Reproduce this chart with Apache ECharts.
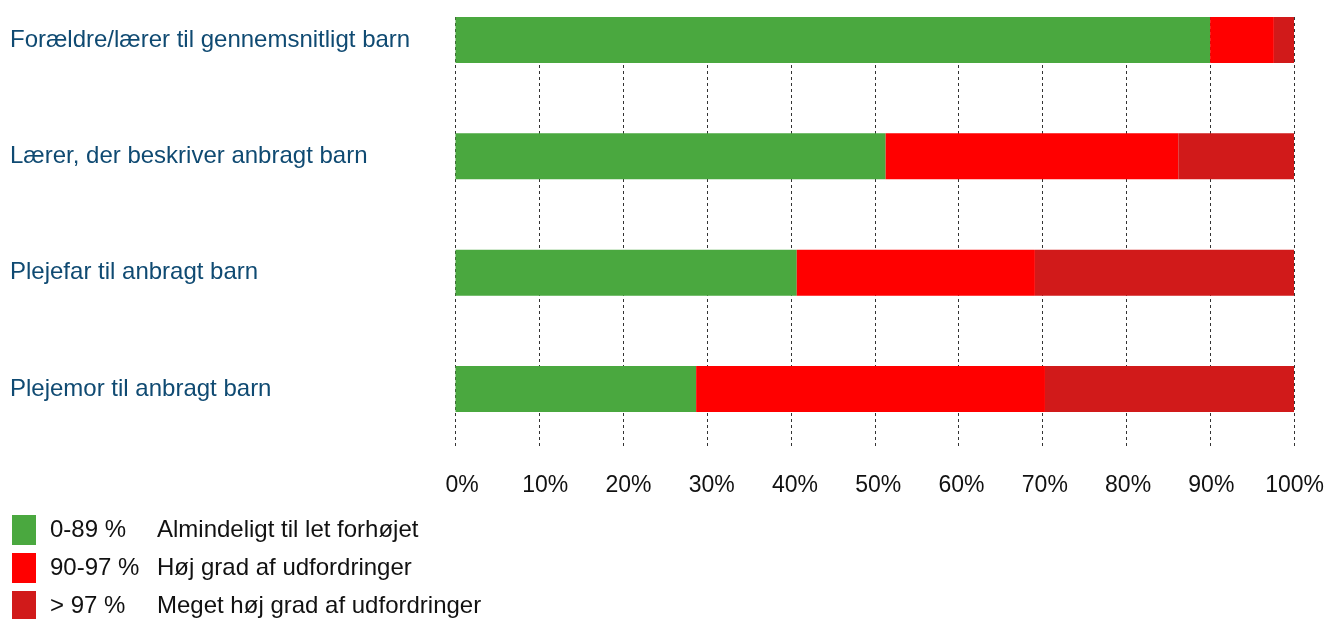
<!DOCTYPE html>
<html>
<head>
<meta charset="utf-8">
<script src="https://cdn.jsdelivr.net/npm/echarts@6/dist/echarts.min.js"></script>
<style>
html,body{margin:0;padding:0;background:#fff;}
#chart{width:1327px;height:619px;}
</style>
</head>
<body>
<div id="chart"></div>
<script>
var categories = [
  "Forældre/lærer til gennemsnitligt barn",
  "Lærer, der beskriver anbragt barn",
  "Plejefar til anbragt barn",
  "Plejemor til anbragt barn"
];
var seriesNames = ["0-89 %", "90-97 %", "> 97 %"];
var seriesLabels = ["Almindeligt til let forhøjet", "Høj grad af udfordringer", "Meget høj grad af udfordringer"];
var seriesColors = ["#4aa83f", "#ff0000", "#d11a1a"];
var normalValues = [90, 51.3, 40.7, 28.7];
var highValues = [7.6, 34.9, 28.4, 41.6];
var veryHighValues = [2.4, 13.8, 30.9, 29.7];
var xTicks = [0, 10, 20, 30, 40, 50, 60, 70, 80, 90, 100];

var values = [normalValues, highValues, veryHighValues];
var font = "'Liberation Sans', Arial, Helvetica, sans-serif";

var chart = echarts.init(document.getElementById('chart'), null, {renderer: 'canvas'});
var series = seriesNames.map(function (n, i) {
  return {
    name: n,
    type: 'bar',
    stack: 'total',
    barWidth: 46,
    xAxisIndex: 1,
    yAxisIndex: 1,
    clip: false,
    data: values[i],
    itemStyle: {color: seriesColors[i]},
    emphasis: {disabled: true}
  };
});

var legends = seriesNames.map(function (n, i) {
  return {
    orient: 'vertical',
    left: 12,
    top: 515 + i * 38,
    padding: 0,
    itemWidth: 24,
    itemHeight: 30,
    icon: 'rect',
    selectedMode: false,
    data: [n],
    formatter: function (name) {
      var k = seriesNames.indexOf(name);
      return '{a|' + name + '}{b|' + seriesLabels[k] + '}';
    },
    textStyle: {
      fontFamily: font,
      fontSize: 24,
      color: '#111',
      rich: {
        a: {width: 107, padding: [0, 0, 0, 9], fontSize: 24, fontFamily: font, color: '#111'},
        b: {fontSize: 24, fontFamily: font, color: '#111'}
      }
    }
  };
});

chart.setOption({
  animation: false,
  textStyle: {fontFamily: font},
  grid: [
    {left: 455.5, right: 33, top: 17, bottom: 171, containLabel: false},
    {left: 455.5, right: 33, top: 40, height: 349, containLabel: false},
    {left: 462, right: 31.5, top: 17, bottom: 171, containLabel: false}
  ],
  xAxis: [{
    type: 'value',
    gridIndex: 0,
    min: 0,
    max: 100,
    interval: 10,
    axisLine: {show: false},
    axisTick: {show: false},
    axisLabel: {show: false},
    splitLine: {show: true, lineStyle: {color: '#333', type: [3, 3], width: 1}}
  }, {
    type: 'value',
    gridIndex: 1,
    min: 0,
    max: 100,
    interval: 10,
    show: false
  }, {
    type: 'value',
    gridIndex: 2,
    min: 0,
    max: 100,
    interval: 10,
    axisLine: {show: false},
    axisTick: {show: false},
    splitLine: {show: false},
    axisLabel: {
      formatter: function (v) { return xTicks.indexOf(v) >= 0 ? v + '%' : ''; },
      color: '#111',
      fontSize: 23,
      fontFamily: font,
      margin: 26
    }
  }],
  yAxis: [{
    type: 'value',
    gridIndex: 0,
    min: 0,
    max: 1,
    show: false
  }, {
    type: 'category',
    gridIndex: 1,
    inverse: true,
    boundaryGap: false,
    data: categories,
    axisLine: {show: false},
    axisTick: {show: false},
    splitLine: {show: false},
    axisLabel: {
      align: 'left',
      margin: 445.5,
      color: '#0f4a72',
      fontSize: 24,
      fontFamily: font
    }
  }, {
    type: 'value',
    gridIndex: 2,
    min: 0,
    max: 1,
    show: false
  }],
  legend: legends,
  series: series
});
</script>
</body>
</html>
